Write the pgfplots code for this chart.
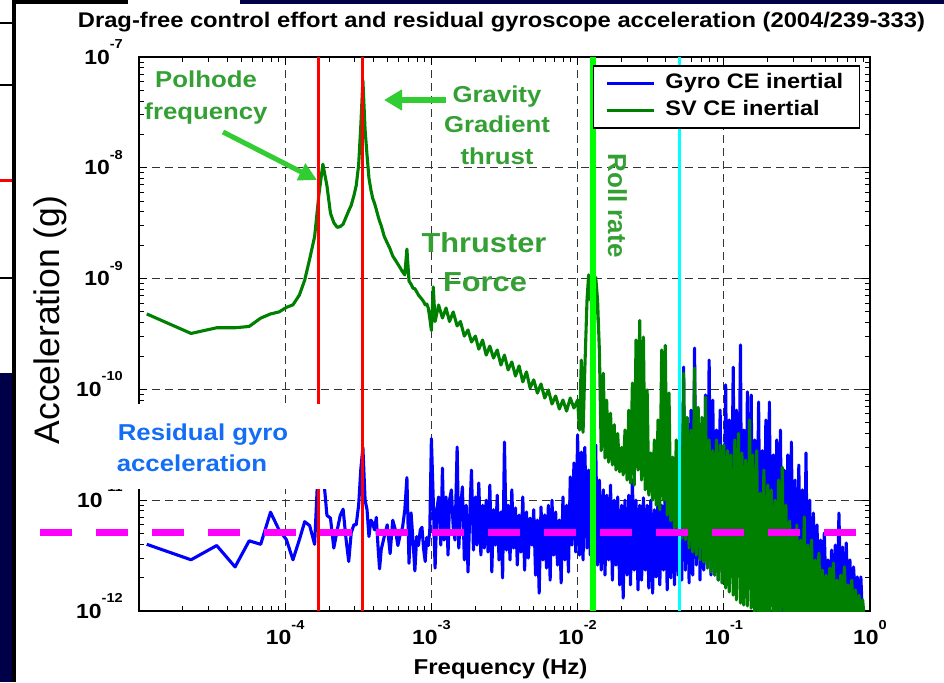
\documentclass[border=0pt]{standalone}
\usepackage{pgfplots}
\pgfplotsset{compat=1.18}
\usepackage{pgfplotstable}
\usepackage{fontspec}
\setmainfont{Liberation Sans}[FakeStretch=1.12]
\newfontfamily\plainfont{Liberation Sans}
\usetikzlibrary{arrows.meta}

\definecolor{gyroblue}{RGB}{0,0,255}
\definecolor{svgreen}{RGB}{0,128,0}
\definecolor{annotgreen}{RGB}{52,160,52}
\definecolor{arrowgreen}{RGB}{50,205,50}
\definecolor{residblue}{RGB}{20,110,245}
\definecolor{rollgreen}{RGB}{0,255,0}
\definecolor{refcyan}{RGB}{0,255,255}
\definecolor{refmagenta}{RGB}{255,0,255}
\definecolor{refred}{RGB}{255,0,0}
\definecolor{slidenavy}{RGB}{0,0,72}

\newcommand{\tl}[1]{\fontsize{20.5}{22}\selectfont\bfseries 10\smash{\raisebox{15.5pt}{\fontsize{13}{13}\selectfont #1}}}

% Gyro CE inertial (blue)
\pgfplotstableread{
x y
1.13e-5 4.0e-12
2.27e-5 2.9e-12
3.40e-5 3.9e-12
4.54e-5 2.5e-12
5.67e-5 4.3e-12
6.80e-5 4.0e-12
7.94e-5 7.8e-12
9.07e-5 5.4e-12
1.02e-4 4.4e-12
1.13e-4 2.9e-12
1.25e-4 4.4e-12
1.36e-4 6.4e-12
1.47e-4 5.9e-12
1.59e-4 4.0e-12
1.70e-4 2.8e-11
1.81e-4 1.9e-11
1.93e-4 7.3e-12
2.04e-4 6.9e-12
2.15e-4 3.7e-12
2.27e-4 5.4e-12
2.38e-4 7.3e-12
2.49e-4 8.3e-12
2.61e-4 4.4e-12
2.72e-4 2.8e-12
2.83e-4 5.1e-12
2.95e-4 6.0e-12
3.06e-4 6.0e-12
3.18e-4 9.0e-12
3.29e-4 1.9e-11
3.40e-4 3.0e-11
3.52e-4 1.0e-11
3.63e-4 8.2e-12
3.74e-4 4.7e-12
3.86e-4 6.6e-12
3.97e-4 6.2e-12
4.08e-4 5.4e-12
4.20e-4 7.0e-12
4.31e-4 3.9e-12
4.42e-4 2.4e-12
4.54e-4 3.6e-12
4.76e-4 4.7e-12
4.99e-4 6.0e-12
5.22e-4 3.3e-12
5.44e-4 6.6e-12
5.67e-4 5.4e-12
5.90e-4 3.9e-12
6.12e-4 4.9e-12
6.35e-4 5.7e-12
6.58e-4 8.2e-12
6.80e-4 1.6e-11
7.03e-4 2.7e-12
7.26e-4 7.7e-12
7.48e-4 4.4e-12
7.71e-4 2.3e-12
7.94e-4 4.7e-12
8.16e-4 3.9e-12
8.39e-4 5.4e-12
8.62e-4 5.7e-12
8.85e-4 3.6e-12
9.07e-4 2.8e-12
9.30e-4 4.6e-12
9.53e-4 3.9e-12
9.75e-4 5.4e-12
1.00e-3 3.6e-11
1.03e-3 1.0e-11
1.06e-3 2.44e-12
1.09e-3 8.2e-12
1.12e-3 1.07e-11
1.16e-3 3.94e-12
1.19e-3 1.95e-11
1.22e-3 4.37e-12
1.26e-3 1.07e-11
1.30e-3 3.2e-12
1.33e-3 1.0e-11
1.37e-3 1.24e-11
1.41e-3 5.73e-12
1.45e-3 4.37e-12
1.50e-3 3.02e-11
1.54e-3 3.7e-12
1.58e-3 8.2e-12
1.63e-3 1.32e-11
1.68e-3 2.89e-12
1.73e-3 9.0e-12
1.78e-3 2.25e-12
1.83e-3 7.35e-12
1.88e-3 1.87e-11
1.94e-3 3.55e-12
2.00e-3 1.07e-11
2.05e-3 3.94e-12
2.11e-3 1.43e-11
2.18e-3 3.2e-12
2.24e-3 9.0e-12
2.30e-3 3.7e-12
2.37e-3 1.0e-11
2.44e-3 3.41e-12
2.51e-3 1.37e-11
2.59e-3 2.25e-12
2.66e-3 8.2e-12
2.74e-3 3.94e-12
2.82e-3 1.11e-11
2.90e-3 2.89e-12
2.99e-3 7.83e-12
3.07e-3 1.99e-12
3.16e-3 3.35e-11
3.26e-3 3.55e-12
3.35e-3 9.0e-12
3.45e-3 2.89e-12
3.55e-3 1.24e-11
3.65e-3 3.7e-12
3.76e-3 8.5e-12
3.87e-3 2.6e-12
3.98e-3 7.35e-12
4.10e-3 3.41e-12
4.22e-3 1.07e-11
4.34e-3 2.34e-12
4.47e-3 7.83e-12
4.60e-3 3.01e-12
4.73e-3 6.9e-12
4.87e-3 3.94e-12
5.01e-3 8.2e-12
5.16e-3 2.11e-12
5.31e-3 6.63e-12
5.46e-3 1.45e-12
5.62e-3 8.68e-12
5.79e-3 2.89e-12
5.96e-3 7.35e-12
6.13e-3 2.44e-12
6.31e-3 9.0e-12
6.49e-3 1.9e-12
6.68e-3 1.0e-11
6.88e-3 3.2e-12
7.08e-3 7.83e-12
7.29e-3 2.6e-12
7.50e-3 6.63e-12
7.72e-3 1.79e-12
7.94e-3 1.07e-11
8.18e-3 2.89e-12
8.41e-3 9.0e-12
8.66e-3 2.25e-12
8.91e-3 1.62e-11
9.17e-3 3.94e-12
9.44e-3 2.17e-11
9.72e-3 3.41e-12
1.00e-2 3.9e-11
1.03e-2 3.2e-12
1.06e-2 2.72e-11
1.09e-2 2.89e-12
1.12e-2 3.0e-11
1.16e-2 3.7e-12
1.19e-2 1.87e-11
1.22e-2 3.2e-12
1.26e-2 1.52e-11
1.30e-2 2.89e-12
1.33e-2 3.15e-11
1.37e-2 2.6e-12
1.41e-2 1.52e-11
1.45e-2 2.34e-12
1.50e-2 1.24e-11
1.54e-2 2.11e-12
1.58e-2 1.11e-11
1.63e-2 2.89e-12
1.68e-2 1.37e-11
1.73e-2 1.9e-12
1.78e-2 1.0e-11
1.83e-2 2.6e-12
1.88e-2 1.07e-11
1.94e-2 1.72e-12
2.00e-2 9.0e-12
2.05e-2 1.31e-12
2.11e-2 1.0e-11
2.18e-2 2.11e-12
2.24e-2 1.11e-11
2.30e-2 1.72e-12
2.37e-2 1.52e-11
2.44e-2 2.34e-12
2.51e-2 1.0e-11
2.59e-2 1.55e-12
2.66e-2 9.0e-12
2.74e-2 1.9e-12
2.82e-2 1.05e-11
2.90e-2 2.34e-12
2.99e-2 9.0e-12
3.07e-2 1.61e-12
3.16e-2 1.0e-11
3.26e-2 1.45e-12
3.35e-2 8.2e-12
3.45e-2 2.03e-12
3.55e-2 1.11e-11
3.65e-2 1.72e-12
3.76e-2 9.0e-12
3.87e-2 2.34e-12
3.98e-2 1.24e-11
4.10e-2 1.55e-12
4.22e-2 1.0e-11
4.34e-2 1.99e-12
4.47e-2 1.52e-11
4.60e-2 1.72e-12
4.73e-2 1.87e-11
4.87e-2 2.11e-12
5.01e-2 2.56e-11
5.16e-2 1.9e-12
5.31e-2 1.59e-10
5.46e-2 2.34e-12
5.62e-2 4.3e-11
5.79e-2 1.79e-12
5.96e-2 6.5e-11
6.13e-2 2.11e-12
6.31e-2 2.36e-10
6.49e-2 2.6e-12
6.68e-2 5.3e-11
6.88e-2 1.9e-12
7.08e-2 3.5e-11
7.29e-2 2.34e-12
7.50e-2 8.9e-11
7.72e-2 2.6e-12
7.94e-2 1.84e-10
8.18e-2 2.11e-12
8.41e-2 8.0e-11
8.66e-2 2.44e-12
8.91e-2 4.3e-11
9.17e-2 1.9e-12
9.44e-2 6.5e-11
9.72e-2 2.25e-12
1.00e-1 2.89e-12
1.03e-1 1.1e-10
1.06e-1 2.11e-12
1.09e-1 5.3e-11
1.12e-1 2.34e-12
1.16e-1 1.59e-10
1.19e-1 1.9e-12
1.22e-1 6.5e-11
1.26e-1 2.6e-12
1.30e-1 2.52e-10
1.33e-1 2.11e-12
1.37e-1 4.3e-11
1.41e-1 1.72e-12
1.45e-1 9.5e-11
1.50e-1 2.34e-12
1.54e-1 8.9e-11
1.58e-1 1.55e-12
1.63e-1 3.5e-11
1.68e-1 1.9e-12
1.73e-1 7.7e-11
1.78e-1 1.39e-12
1.83e-1 2.8e-11
1.88e-1 1.72e-12
1.94e-1 5.3e-11
2.00e-1 1.26e-12
2.05e-1 7.7e-11
2.11e-1 1.45e-12
2.18e-1 2.56e-11
2.24e-1 1.13e-12
2.30e-1 3.5e-11
2.37e-1 1.26e-12
2.44e-1 4.3e-11
2.51e-1 8e-13
2.59e-1 1.87e-11
2.66e-1 1.13e-12
2.74e-1 2.56e-11
2.82e-1 8e-13
2.90e-1 3.35e-11
2.99e-1 8e-13
3.07e-1 1.52e-11
3.16e-1 8e-13
3.26e-1 2.08e-11
3.35e-1 8e-13
3.45e-1 1.24e-11
3.55e-1 8e-13
3.65e-1 2.67e-11
3.76e-1 8e-13
3.87e-1 1.0e-11
3.98e-1 8e-13
4.10e-1 7.66e-12
4.22e-1 8e-13
4.34e-1 5.97e-12
4.47e-1 1.13e-12
4.60e-1 4.37e-12
4.73e-1 8e-13
4.87e-1 5.06e-12
5.01e-1 1.26e-12
5.16e-1 2.89e-12
5.31e-1 8e-13
5.46e-1 3.55e-12
5.62e-1 1.13e-12
5.79e-1 3.94e-12
5.96e-1 8e-13
6.13e-1 7.66e-12
6.31e-1 1.26e-12
6.49e-1 3.78e-12
6.68e-1 8e-13
6.88e-1 4.11e-12
7.08e-1 1.13e-12
7.29e-1 2.89e-12
7.50e-1 8e-13
7.72e-1 2.5e-12
7.94e-1 1.26e-12
8.18e-1 2.03e-12
8.41e-1 8e-13
8.66e-1 2.03e-12
8.91e-1 8e-13
}\gyrodata

% SV CE inertial (green)
\pgfplotstableread{
x y
1.13e-5 4.8e-10
2.27e-5 3.2e-10
3.40e-5 3.6e-10
4.54e-5 3.6e-10
5.67e-5 3.7e-10
6.80e-5 4.4e-10
7.94e-5 4.8e-10
9.07e-5 5.0e-10
1.02e-4 5.5e-10
1.13e-4 5.8e-10
1.25e-4 7.1e-10
1.36e-4 9.7e-10
1.47e-4 1.5e-9
1.59e-4 2.4e-9
1.70e-4 5.7e-9
1.81e-4 1.08e-8
1.93e-4 6.9e-9
2.04e-4 3.9e-9
2.15e-4 3.2e-9
2.27e-4 2.9e-9
2.38e-4 2.95e-9
2.49e-4 3.1e-9
2.61e-4 3.6e-9
2.72e-4 4.1e-9
2.83e-4 4.6e-9
2.95e-4 5.6e-9
3.06e-4 6.9e-9
3.18e-4 1.06e-8
3.29e-4 2.4e-8
3.40e-4 6.2e-8
3.52e-4 2.2e-8
3.63e-4 1.3e-8
3.74e-4 8.1e-9
3.86e-4 6.3e-9
3.97e-4 5.3e-9
4.08e-4 4.8e-9
4.20e-4 4.2e-9
4.31e-4 3.7e-9
4.42e-4 3.3e-9
4.54e-4 3.0e-9
4.76e-4 2.4e-9
4.99e-4 2.1e-9
5.22e-4 1.85e-9
5.44e-4 1.6e-9
5.67e-4 1.47e-9
5.90e-4 1.35e-9
6.12e-4 1.25e-9
6.35e-4 1.15e-9
6.58e-4 1.08e-9
6.80e-4 1.85e-9
7.03e-4 9.5e-10
7.26e-4 8.9e-10
7.48e-4 8.2e-10
7.71e-4 8.1e-10
7.94e-4 7.6e-10
8.16e-4 7.1e-10
8.39e-4 6.8e-10
8.62e-4 6.5e-10
8.85e-4 6.2e-10
9.07e-4 5.8e-10
9.30e-4 5.9e-10
9.53e-4 5.4e-10
9.75e-4 4.4e-10
1.00e-3 3.4e-10
1.03e-3 8.4e-10
1.06e-3 4.1e-10
1.12e-3 5.78e-10
1.19e-3 4.41e-10
1.26e-3 5.43e-10
1.33e-3 4.1e-10
1.41e-3 5.0e-10
1.50e-3 3.74e-10
1.58e-3 4.1e-10
1.68e-3 3.03e-10
1.78e-3 3.44e-10
1.88e-3 2.68e-10
2.00e-3 3.03e-10
2.11e-3 2.31e-10
2.24e-3 2.79e-10
2.37e-3 2.04e-10
2.51e-3 2.46e-10
2.66e-3 1.92e-10
2.82e-3 2.27e-10
2.99e-3 1.66e-10
3.16e-3 2.04e-10
3.35e-3 1.50e-10
3.55e-3 1.77e-10
3.76e-3 1.32e-10
3.98e-3 1.63e-10
4.22e-3 1.17e-10
4.47e-3 1.44e-10
4.73e-3 1.03e-10
5.01e-3 1.22e-10
5.31e-3 9.27e-11
5.62e-3 1.12e-10
5.96e-3 8.36e-11
6.31e-3 9.88e-11
6.68e-3 7.39e-11
7.08e-3 8.72e-11
7.50e-3 6.66e-11
7.94e-3 8.02e-11
8.41e-3 6.38e-11
8.91e-3 8.36e-11
9.44e-3 6.80e-11
1.00e-2 8.0e-11
1.03e-2 4.3e-11
1.06e-2 1.84e-10
1.09e-2 4.1e-11
1.12e-2 1.5e-10
1.16e-2 6.4e-10
1.19e-2 1.08e-9
1.22e-2 6.4e-10
1.26e-2 9.7e-10
1.30e-2 3.4e-10
1.33e-2 1.03e-9
1.37e-2 6.4e-10
1.41e-2 2.2e-10
1.45e-2 2.8e-11
1.50e-2 1.4e-10
1.54e-2 2.4e-11
1.58e-2 8.0e-11
1.63e-2 2.2e-11
1.68e-2 6.1e-11
1.73e-2 2.08e-11
1.78e-2 4.8e-11
1.83e-2 1.87e-11
1.88e-2 4.0e-11
1.94e-2 1.8e-11
2.00e-2 3.0e-11
2.05e-2 1.69e-11
2.11e-2 4.3e-11
2.18e-2 1.52e-11
2.24e-2 6.5e-11
2.30e-2 1.43e-11
2.37e-2 1.14e-10
2.44e-2 1.37e-11
2.51e-2 2.8e-10
2.59e-2 1.87e-11
2.66e-2 4.2e-10
2.74e-2 1.52e-11
2.82e-2 2.97e-10
2.90e-2 1.24e-11
2.99e-2 9.9e-11
3.07e-2 1.11e-11
3.16e-2 2.67e-11
3.26e-2 1.0e-11
3.35e-2 3.5e-11
3.45e-2 9.0e-12
3.55e-2 5.3e-11
3.65e-2 8.2e-12
3.76e-2 2.27e-10
3.87e-2 1.0e-11
3.98e-2 2.5e-10
4.10e-2 7.35e-12
4.22e-2 9.3e-11
4.34e-2 6.5e-12
4.47e-2 2.45e-11
4.60e-2 5.6e-12
4.73e-2 3.5e-11
4.87e-2 5.2e-12
5.01e-2 2.8e-11
5.16e-2 4.55e-12
5.31e-2 1.4e-10
5.46e-2 4.4e-12
5.62e-2 5.6e-11
5.79e-2 3.7e-12
5.96e-2 4.3e-11
6.13e-2 3.4e-12
6.31e-2 1.56e-10
6.49e-2 3.2e-12
6.68e-2 6.9e-11
6.88e-2 2.9e-12
7.08e-2 5.6e-11
7.29e-2 2.77e-12
7.50e-2 8.5e-11
7.72e-2 2.44e-12
7.94e-2 3.5e-11
8.18e-2 2.25e-12
8.41e-2 2.8e-11
8.66e-2 2.1e-12
8.91e-2 3.5e-11
9.17e-2 1.9e-12
9.44e-2 3.15e-11
9.72e-2 1.79e-12
1.00e-1 3.15e-11
1.03e-1 1.61e-12
1.06e-1 2.8e-11
1.09e-1 1.48e-12
1.12e-1 2.56e-11
1.16e-1 1.39e-12
1.19e-1 3.5e-11
1.22e-1 1.26e-12
1.26e-1 4.0e-11
1.30e-1 1.18e-12
1.33e-1 2.67e-11
1.37e-1 1.13e-12
1.41e-1 2.3e-11
1.45e-1 1.11e-12
1.50e-1 5.3e-11
1.54e-1 1.06e-12
1.58e-1 2.56e-11
1.63e-1 8e-13
1.68e-1 2.8e-11
1.73e-1 8e-13
1.78e-1 1.16e-11
1.83e-1 8e-13
1.88e-1 1.87e-11
1.94e-1 8e-13
2.00e-1 1.37e-11
2.05e-1 8e-13
2.11e-1 1.24e-11
2.18e-1 8e-13
2.24e-1 1.0e-11
2.30e-1 8e-13
2.37e-1 1.52e-11
2.44e-1 8e-13
2.51e-1 1.99e-11
2.59e-1 8e-13
2.66e-1 9.0e-12
2.74e-1 8e-13
2.82e-1 6.5e-12
2.90e-1 8e-13
2.99e-1 5.06e-12
3.07e-1 8e-13
3.16e-1 5.97e-12
3.26e-1 8e-13
3.35e-1 4.37e-12
3.45e-1 8e-13
3.55e-1 7.05e-12
3.65e-1 8e-13
3.76e-1 3.94e-12
3.87e-1 8e-13
3.98e-1 4.37e-12
4.10e-1 8e-13
4.22e-1 2.89e-12
4.34e-1 8e-13
4.47e-1 3.34e-12
4.60e-1 8e-13
4.73e-1 2.34e-12
4.87e-1 8e-13
5.01e-1 2.11e-12
5.16e-1 8e-13
5.31e-1 2.44e-12
5.46e-1 8e-13
5.62e-1 2.71e-12
5.79e-1 8e-13
5.96e-1 1.9e-12
6.13e-1 8e-13
6.31e-1 2.11e-12
6.49e-1 8e-13
6.68e-1 2.5e-12
6.88e-1 8e-13
7.08e-1 1.72e-12
7.29e-1 8e-13
7.50e-1 1.9e-12
7.72e-1 8e-13
7.94e-1 1.55e-12
8.18e-1 8e-13
8.41e-1 1.39e-12
8.66e-1 8e-13
8.91e-1 1.26e-12
9.17e-1 8e-13
}\svdata

\begin{document}
\begin{tikzpicture}[x=1pt,y=1pt]
\path[use as bounding box] (0pt,0pt) rectangle (944pt,682pt);
\fill[white] (0pt,0pt) rectangle (944pt,682pt);

\begin{axis}[
  at={(139pt,71pt)}, anchor=south west,
  scale only axis, width=731pt, height=554pt,
  xmode=log, ymode=log,
  xmin=1e-5, xmax=1, ymin=1e-12, ymax=1e-7,
  axis line style={line width=1.5pt, black},
  tick style={black, line width=1pt},
  major tick length=8pt, minor tick length=5pt,
  grid=major,
  major grid style={black!80, line width=0.9pt, dash pattern=on 8pt off 5pt},
  xtick={1e-5,1e-4,1e-3,1e-2,1e-1,1},
  xticklabels={,\tl{-4},\tl{-3},\tl{-2},\tl{-1},\tl{0}},
  ytick={1e-12,1e-11,1e-10,1e-9,1e-8,1e-7},
  yticklabels={\tl{-12},\tl{-11},\tl{-10},\tl{-9},\tl{-8},\tl{-7}},
  minor xtick={2e-5,3e-5,4e-5,5e-5,6e-5,7e-5,8e-5,9e-5,2e-4,3e-4,4e-4,5e-4,6e-4,7e-4,8e-4,9e-4,2e-3,3e-3,4e-3,5e-3,6e-3,7e-3,8e-3,9e-3,2e-2,3e-2,4e-2,5e-2,6e-2,7e-2,8e-2,9e-2,0.2,0.3,0.4,0.5,0.6,0.7,0.8,0.9},
  minor ytick={2e-12,3e-12,4e-12,5e-12,6e-12,7e-12,8e-12,9e-12,2e-11,3e-11,4e-11,5e-11,6e-11,7e-11,8e-11,9e-11,2e-10,3e-10,4e-10,5e-10,6e-10,7e-10,8e-10,9e-10,2e-9,3e-9,4e-9,5e-9,6e-9,7e-9,8e-9,9e-9,2e-8,3e-8,4e-8,5e-8,6e-8,7e-8,8e-8,9e-8},
  xticklabel style={anchor=north, inner sep=0pt, yshift=-19pt},
  yticklabel style={anchor=east, inner sep=0pt, xshift=-16pt},
  legend style={at={(1,1)}, anchor=north east, xshift=-10pt, yshift=-8pt,
    draw=black, line width=1.5pt, fill=white,
    font=\fontsize{21}{25}\selectfont\bfseries,
    inner xsep=12pt, inner ysep=4pt,
    nodes={text height=15pt, text depth=4pt, inner sep=4pt},
    /tikz/every odd column/.append style={column sep=6pt},
    cells={anchor=west}},
  legend image code/.code={\draw[#1, line width=3pt] (0pt,0pt) -- (47pt,0pt);},
]
\addplot[gyroblue, line width=3.1pt, line join=round] table[x=x,y=y] {\gyrodata};
\addlegendentry{Gyro CE inertial}
\addplot[svgreen, line width=3.1pt, line join=round] table[x=x,y=y] {\svdata};
\addlegendentry{SV CE inertial}
\addplot[refred, line width=3pt, forget plot] coordinates {(1.68e-4,1e-12) (1.68e-4,1e-7)};
\addplot[refred, line width=3pt, forget plot] coordinates {(3.36e-4,1e-12) (3.36e-4,1e-7)};
\addplot[rollgreen, line width=5.5pt, forget plot] coordinates {(1.274e-2,1e-12) (1.274e-2,1e-7)};
\addplot[refcyan, line width=3pt, forget plot] coordinates {(4.94e-2,1e-12) (4.94e-2,1e-7)};
\end{axis}

% residual level line (extends beyond the axis)
\begin{axis}[
  at={(0pt,71pt)}, anchor=south west,
  scale only axis, width=944pt, height=554pt,
  xmode=log, ymode=log,
  xmin=1.12e-6, xmax=3.21, ymin=1e-12, ymax=1e-7,
  hide axis, clip=false,
]
\addplot[refmagenta, line width=7pt, dash pattern=on 32pt off 24pt, dash phase=16pt] coordinates {(1.12e-6,5.1e-12) (0.802,5.1e-12)};
\end{axis}

% slide remnants at left/top
\fill[slidenavy] (0pt,0pt) rectangle (12pt,309pt);
\fill[black] (12pt,0pt) rectangle (16pt,682pt);
\fill[black] (12pt,678pt) rectangle (128pt,682pt);
\fill[slidenavy] (240pt,678pt) rectangle (944pt,682pt);
\fill[black] (0pt,658pt) rectangle (12pt,660pt);
\fill[black] (0pt,596pt) rectangle (12pt,598pt);
\fill[refred] (0pt,500pt) rectangle (12pt,503pt);
\fill[black] (0pt,403pt) rectangle (12pt,405pt);

% title and axis labels
\node[anchor=base, font=\fontsize{21.2}{24}\selectfont\bfseries] at (501.5pt,654pt) {Drag-free control effort and residual gyroscope acceleration (2004/239-333)};
\node[anchor=base, font=\fontsize{21.5}{24}\selectfont\bfseries] at (500.5pt,8pt) {Frequency (Hz)};
\node[rotate=90, font=\plainfont\fontsize{35.5}{38}\selectfont] at (50pt,362pt) {Acceleration (g)};

% annotations
\fill[white] (95pt,193pt) rectangle (327pt,278pt);
\node[anchor=base, residblue, font=\fontsize{23}{26}\selectfont\bfseries] at (203pt,241pt) {Residual gyro};
\node[anchor=base, residblue, font=\fontsize{23}{26}\selectfont\bfseries] at (192pt,210pt) {acceleration};

\node[anchor=base, annotgreen, font=\fontsize{23}{26}\selectfont\bfseries] at (206pt,594pt) {Polhode};
\node[anchor=base, annotgreen, font=\fontsize{23}{26}\selectfont\bfseries] at (206pt,562pt) {frequency};
\draw[arrowgreen, line width=5pt, -{Triangle[length=18pt,width=18pt]}] (223pt,550pt) -- (317pt,502pt);

\draw[arrowgreen, line width=6pt, -{Triangle[length=18pt,width=20pt]}] (446pt,582pt) -- (384pt,582pt);
\node[anchor=base, annotgreen, font=\fontsize{23}{26}\selectfont\bfseries] at (497pt,579pt) {Gravity};
\node[anchor=base, annotgreen, font=\fontsize{23}{26}\selectfont\bfseries] at (497pt,549pt) {Gradient};
\node[anchor=base, annotgreen, font=\fontsize{23}{26}\selectfont\bfseries] at (497pt,517pt) {thrust};

\node[anchor=base, annotgreen, font=\fontsize{27.5}{30}\selectfont\bfseries] at (484pt,429pt) {Thruster};
\node[anchor=base, annotgreen, font=\fontsize{27.5}{30}\selectfont\bfseries] at (485pt,390pt) {Force};

\node[rotate=-90, annotgreen, font=\plainfont\fontsize{26}{28}\selectfont\bfseries] at (617.5pt,476.5pt) {Roll rate};
\end{tikzpicture}
\end{document}
